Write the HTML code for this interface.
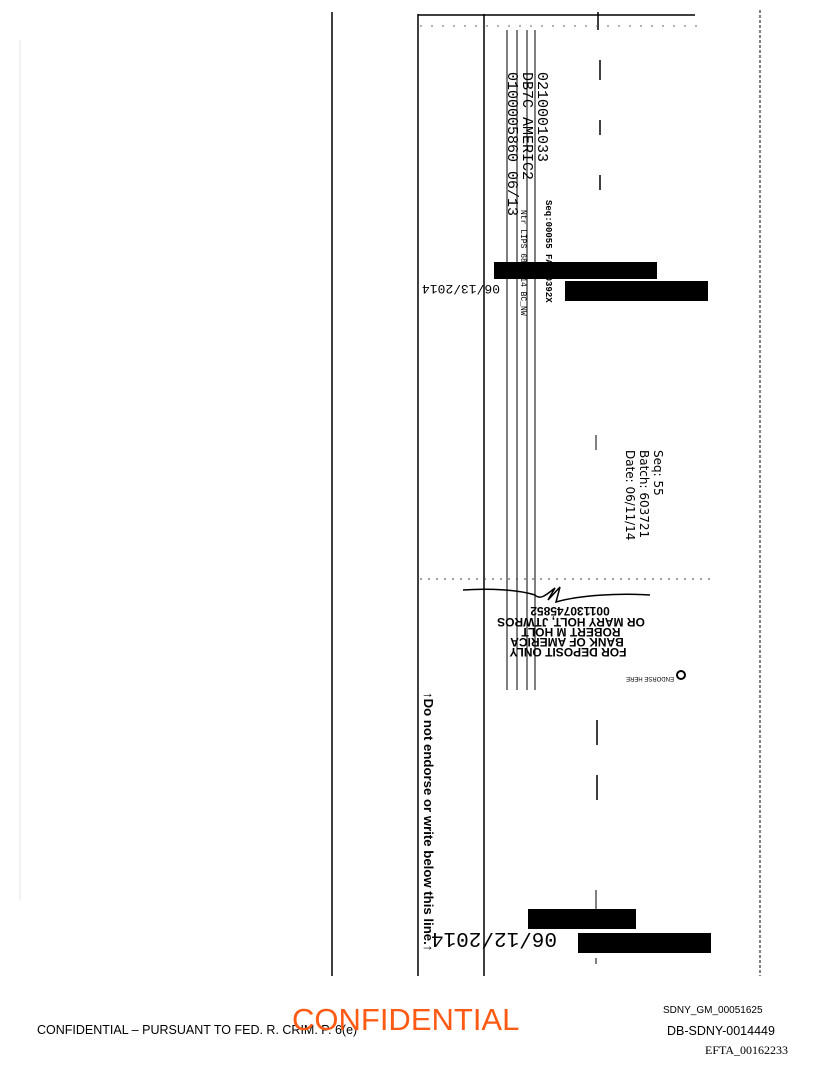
<!DOCTYPE html>
<html><head><meta charset="utf-8"><style>
html,body{margin:0;padding:0;background:#fff;}
body{width:816px;height:1073px;position:relative;overflow:hidden;font-family:"Liberation Sans",sans-serif;}
.a{position:absolute;white-space:nowrap;}
</style></head><body>
<svg width="816" height="1073" style="position:absolute;left:0;top:0">
<g stroke="#000" fill="none">
<line x1="332" y1="12" x2="332" y2="976" stroke-width="1.5"/>
<line x1="20" y1="40" x2="20" y2="900" stroke="#e4e4e4" stroke-width="1"/>
<line x1="418" y1="14" x2="418" y2="976" stroke-width="1.5"/>
<line x1="484" y1="14" x2="484" y2="976" stroke-width="1.5"/>
<line x1="760" y1="10" x2="760" y2="976" stroke-width="1" stroke-dasharray="3,2"/>
<line x1="418" y1="15" x2="695" y2="15" stroke-width="1.5"/>
<line x1="598" y1="12" x2="598" y2="30" stroke-width="1.5"/>
<line x1="507" y1="30" x2="507" y2="690" stroke-width="1"/>
<line x1="517" y1="30" x2="517" y2="690" stroke-width="1"/>
<line x1="527" y1="30" x2="527" y2="690" stroke-width="1"/>
<line x1="535" y1="30" x2="535" y2="690" stroke-width="1"/>
<line x1="600" y1="60" x2="600" y2="80" stroke-width="1.5"/>
<line x1="600" y1="120" x2="600" y2="135" stroke-width="1.5"/>
<line x1="600" y1="175" x2="600" y2="190" stroke-width="1.5"/>
<line x1="597" y1="720" x2="597" y2="745" stroke-width="1.5"/>
<line x1="597" y1="775" x2="597" y2="800" stroke-width="1.5"/>
<line x1="596" y1="890" x2="596" y2="910" stroke-width="1"/>
<line x1="596" y1="958" x2="596" y2="964" stroke-width="1"/>
<line x1="596" y1="435" x2="596" y2="450" stroke-width="1"/>
<path d="M463 590 C490 588 520 590 535 595 C540 600 545 596 555 588 L548 600 L560 587 L556 602 C580 595 620 593 650 595" stroke-width="1.5"/>
<line x1="420" y1="579" x2="710" y2="579" stroke-dasharray="2,6" stroke-width="1" stroke="#444"/>
<line x1="420" y1="26" x2="700" y2="26" stroke-dasharray="2,9" stroke-width="1" stroke="#666"/>
<circle cx="681" cy="675" r="4" stroke-width="2"/>
</g>
<g fill="#000">
<rect x="494" y="262" width="163" height="17"/>
<rect x="565" y="281" width="143" height="20"/>
<rect x="528" y="909" width="108" height="20"/>
<rect x="578" y="933" width="133" height="20"/>
</g>
<g font-family="Liberation Mono,monospace" fill="#000">
<text transform="translate(538,72) rotate(90)" font-size="15">0210001033</text>
<text transform="translate(523,72) rotate(90)" font-size="15">DB7C AMERIC2</text>
<text transform="translate(508,72) rotate(90)" font-size="15">0100005860 06/13</text>
<text transform="translate(546,200) rotate(90)" font-size="9" font-weight="bold">Seq:00055 FAKE0392X</text>
<text transform="translate(521,210) rotate(90)" font-size="8">Ntr LIPS 68:2014 BC_NW</text>
<text transform="translate(500,285) rotate(180)" font-size="13">06/13/2014</text>
<text transform="translate(557,933) rotate(180)" font-size="21">06/12/2014</text>
</g>
<g font-family="DejaVu Sans,sans-serif" font-size="12" fill="#000">
<text transform="translate(654,450) rotate(90)">Seq:  55</text>
<text transform="translate(640,450) rotate(90)">Batch:  603721</text>
<text transform="translate(626,450) rotate(90)">Date: 06/11/14</text>
</g>
<g font-family="Liberation Sans,sans-serif" font-weight="bold" fill="#000" text-anchor="middle">
<text transform="translate(570,607) rotate(180)" font-size="12">001130745852</text>
<text transform="translate(571,618) rotate(180)" font-size="12">OR MARY HOLT, JTWROS</text>
<text transform="translate(571,628) rotate(180)" font-size="12">ROBERT M HOLT</text>
<text transform="translate(567,638) rotate(180)" font-size="12">BANK OF AMERICA</text>
<text transform="translate(568,648) rotate(180)" font-size="12">FOR DEPOSIT ONLY</text>
<text transform="translate(650,677) rotate(180)" font-size="6" font-weight="normal">ENDORSE HERE</text>
</g>
<text transform="translate(424,692) rotate(90)" font-family="Liberation Sans,sans-serif" font-weight="bold" font-size="13.2" fill="#000">↑Do not endorse or write below this line.↑</text>
</svg>
<div class="a" style="left:37px;top:1023px;font-size:12.5px;">CONFIDENTIAL – PURSUANT TO FED. R. CRIM. P. 6(e)</div>
<div class="a" style="left:292px;top:1002px;font-size:31px;color:#ff5a14;">CONFIDENTIAL</div>
<div class="a" style="left:663px;top:1005px;font-size:10px;">SDNY_GM_00051625</div>
<div class="a" style="left:667px;top:1024px;font-size:12.5px;">DB-SDNY-0014449</div>
<div class="a" style="left:705px;top:1043px;font-size:12px;font-family:'Liberation Serif',serif;">EFTA_00162233</div>
</body></html>
